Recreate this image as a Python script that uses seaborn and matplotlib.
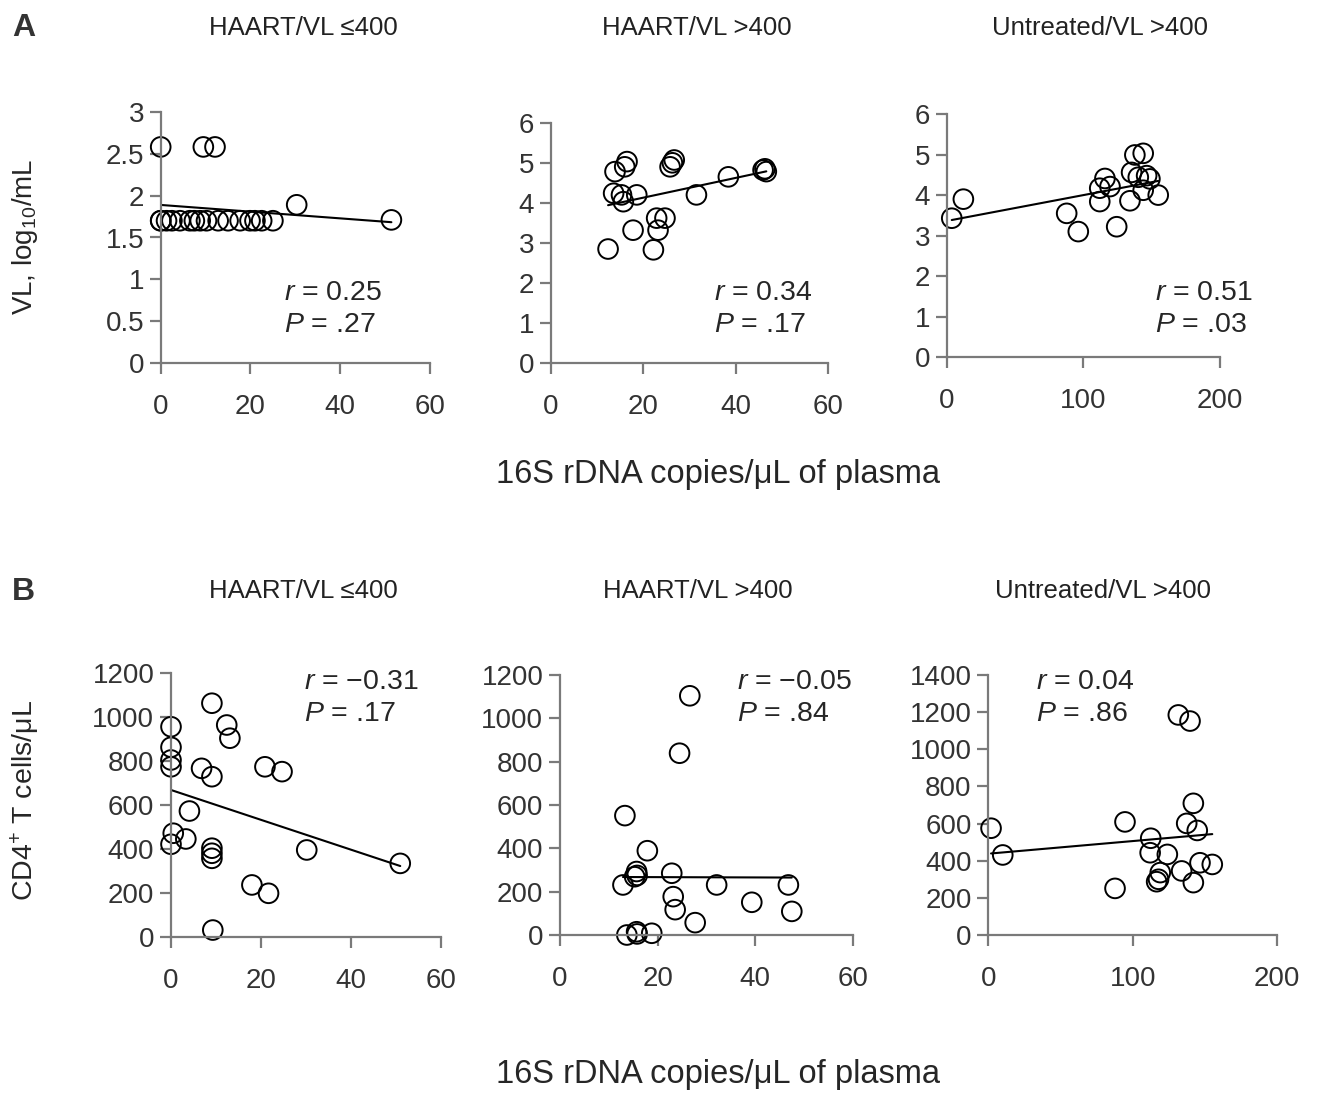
import seaborn as sns
import matplotlib.pyplot as plt
import numpy as np

# panel A: viral load vs 16S rDNA
a1_x = [0, 0, 1.3, 4.3, 6.5, 8.8, 10.2, 12.8, 17.7, 19.9, 21, 25, 9.5, 12.1, 30.3, 51.4,
        0, 2.5, 7.5, 15, 22.5]
a1_y = [2.58, 1.7, 1.7, 1.7, 1.7, 1.7, 1.7, 1.7, 1.7, 1.7, 1.7, 1.7, 2.58, 2.58, 1.89, 1.71,
        1.7, 1.7, 1.7, 1.7, 1.7]

a2_x = [12.4, 13.9, 16.0, 16.5, 13.6, 15.3, 15.7, 18.6, 17.8, 22.2, 23.2, 22.9, 24.7,
        25.8, 26.7, 26.3, 31.5, 38.4, 45.9, 46.6, 46.3]
a2_y = [2.85, 4.78, 4.9, 5.03, 4.24, 4.2, 4.03, 4.2, 3.32, 2.83, 3.32, 3.62, 3.62,
        4.9, 5.07, 5.0, 4.2, 4.65, 4.82, 4.78, 4.85]

a3_x = [3.7, 12.2, 87.8, 96.3, 112, 115.8, 112, 119.5, 124.4, 134.1, 135.3, 137.7,
        143.8, 140.2, 146.3, 143.8, 148.7, 154.8]
a3_y = [3.43, 3.9, 3.55, 3.1, 3.84, 4.41, 4.17, 4.21, 3.22, 3.86, 4.56, 4.99,
        5.03, 4.44, 4.48, 4.12, 4.4, 4.0]

# panel B: CD4 count vs 16S rDNA
b1_x = [9.1, 12.4, 13.1, 0, 0, 0, 0, 6.8, 9.1, 20.9, 24.7, 4.1, 0.5, 3.3, 0, 9.1,
        9.1, 9.1, 30.2, 51, 18, 21.7, 9.3]
b1_y = [1064, 965, 905, 957, 864, 806, 775, 768, 730, 775, 753, 574, 473, 447, 423,
        405, 382, 359, 397, 336, 238, 200, 33]

b2_x = [26.6, 24.5, 13.3, 17.9, 12.9, 15.3, 15.7, 15.8, 22.9, 23.2, 23.6, 32.1, 39.3,
        46.8, 47.5, 13.7, 15.7, 15.8, 18.8, 27.7]
b2_y = [1104, 839, 551, 389, 231, 269, 293, 275, 285, 177, 117, 231, 151, 231, 109,
        0, 15, 5, 8, 57]

b3_x = [1.9, 10, 94.6, 87.7, 112.4, 112, 123.9, 119, 117.8, 116.5, 131.5, 139.6,
        141.9, 137.3, 144.6, 133.8, 141.9, 146.5, 155]
b3_y = [575, 431, 609, 251, 521, 443, 434, 336, 300, 287, 1185, 1152, 709, 601,
        563, 345, 282, 389, 380]

titles = ['HAART/VL ≤400', 'HAART/VL >400', 'Untreated/VL >400']
stats_a = [('0.25', '.27'), ('0.34', '.17'), ('0.51', '.03')]
stats_b = [('\u22120.31', '.17'), ('\u22120.05', '.84'), ('0.04', '.86')]

sns.set_style('white')
plt.rcParams['font.family'] = ['Liberation Sans', 'DejaVu Sans']
plt.rcParams['mathtext.fontset'] = 'custom'
plt.rcParams['mathtext.rm'] = 'Liberation Sans'
plt.rcParams['mathtext.it'] = 'Liberation Sans:italic'

W, H = 1318, 1096
fig = plt.figure(figsize=(W / 100, H / 100), dpi=100)


def px(x0, x1, y_top, y_bot):
    return [x0 / W, 1 - y_bot / H, (x1 - x0) / W, (y_bot - y_top) / H]


boxes = [
    px(160.7, 430, 111.7, 363.3),
    px(550.7, 828.3, 122.7, 363.3),
    px(946.7, 1220, 114, 357.3),
    px(171, 440.7, 673.3, 937.3),
    px(560, 852.8, 675, 935),
    px(988.3, 1277.3, 675, 935),
]
data = [(a1_x, a1_y), (a2_x, a2_y), (a3_x, a3_y), (b1_x, b1_y), (b2_x, b2_y), (b3_x, b3_y)]
xlims = [(0, 60), (0, 60), (0, 200)] * 2
ylims = [(0, 3), (0, 6), (0, 6), (0, 1200), (0, 1200), (0, 1400)]
xstep = [20, 20, 100] * 2
ystep = [0.5, 1, 1, 200, 200, 200]

gray = '#7a7a7a'
for i, (box, (x, y)) in enumerate(zip(boxes, data)):
    ax = fig.add_axes(box)
    sns.regplot(x=x, y=y, ax=ax, ci=None, truncate=True,
                scatter_kws=dict(facecolors='none', edgecolors='black', s=200,
                                 linewidths=1.4, alpha=1, clip_on=False),
                line_kws=dict(color='black', lw=1.5))
    ax.set_xlim(*xlims[i])
    ax.set_ylim(*ylims[i])
    ax.set_xticks(np.arange(xlims[i][0], xlims[i][1] + 1e-9, xstep[i]))
    yt = np.arange(ylims[i][0], ylims[i][1] + 1e-9, ystep[i])
    ax.set_yticks(yt)
    if i == 0:
        ax.set_yticklabels([f'{v:g}' for v in yt])
    ax.set_xlabel('')
    ax.set_ylabel('')
    sns.despine(ax=ax)
    for s in ['left', 'bottom']:
        ax.spines[s].set_color(gray)
        ax.spines[s].set_linewidth(1.6)
    ax.tick_params(axis='both', direction='out', length=8, width=1.6, color=gray,
                   labelsize=20, labelcolor='#333333', bottom=True, left=True)
    ax.tick_params(axis='x', pad=14)
    ax.tick_params(axis='y', pad=4)

# titles
for cx, t in zip([303, 697, 1100], titles):
    fig.text(cx / W, 1 - 28 / H, t, ha='center', va='center', fontsize=18.5, color='#222222')
for cx, t in zip([303, 698, 1103], titles):
    fig.text(cx / W, 1 - 591 / H, t, ha='center', va='center', fontsize=18.5, color='#222222')

# panel letters
fig.text(12 / W, 1 - 28 / H, 'A', fontsize=23, fontweight='bold', va='center', color='#333333')
fig.text(12 / W, 1 - 592 / H, 'B', fontsize=23, fontweight='bold', va='center', color='#333333')

# stats
for (lx, ty), (r, p) in zip([(284, 293), (714, 293), (1155, 293)], stats_a):
    fig.text(lx / W, 1 - ty / H, f'$r$ = {r}', fontsize=20.5, va='center')
    fig.text(lx / W, 1 - (ty + 32) / H, f'$P$ = {p}', fontsize=20.5, va='center')
for (lx, ty), (r, p) in zip([(304, 682), (737, 682), (1036, 682)], stats_b):
    fig.text(lx / W, 1 - ty / H, f'$r$ = {r}', fontsize=20.5, va='center')
    fig.text(lx / W, 1 - (ty + 32) / H, f'$P$ = {p}', fontsize=20.5, va='center')

# axis labels
fig.text(25 / W, 1 - 237 / H, 'VL, log$_{10}$/mL', rotation=90, fontsize=20,
         ha='center', va='center')
fig.text(25 / W, 1 - 800 / H, 'CD4$^{+}$ T cells/μL', rotation=90, fontsize=20.5,
         ha='center', va='center')
fig.text(718 / W, 1 - 475 / H, '16S rDNA copies/μL of plasma', fontsize=23.5,
         ha='center', va='center')
fig.text(718 / W, 1 - 1075 / H, '16S rDNA copies/μL of plasma', fontsize=23.5,
         ha='center', va='center')

plt.savefig('out.png', dpi=100)
